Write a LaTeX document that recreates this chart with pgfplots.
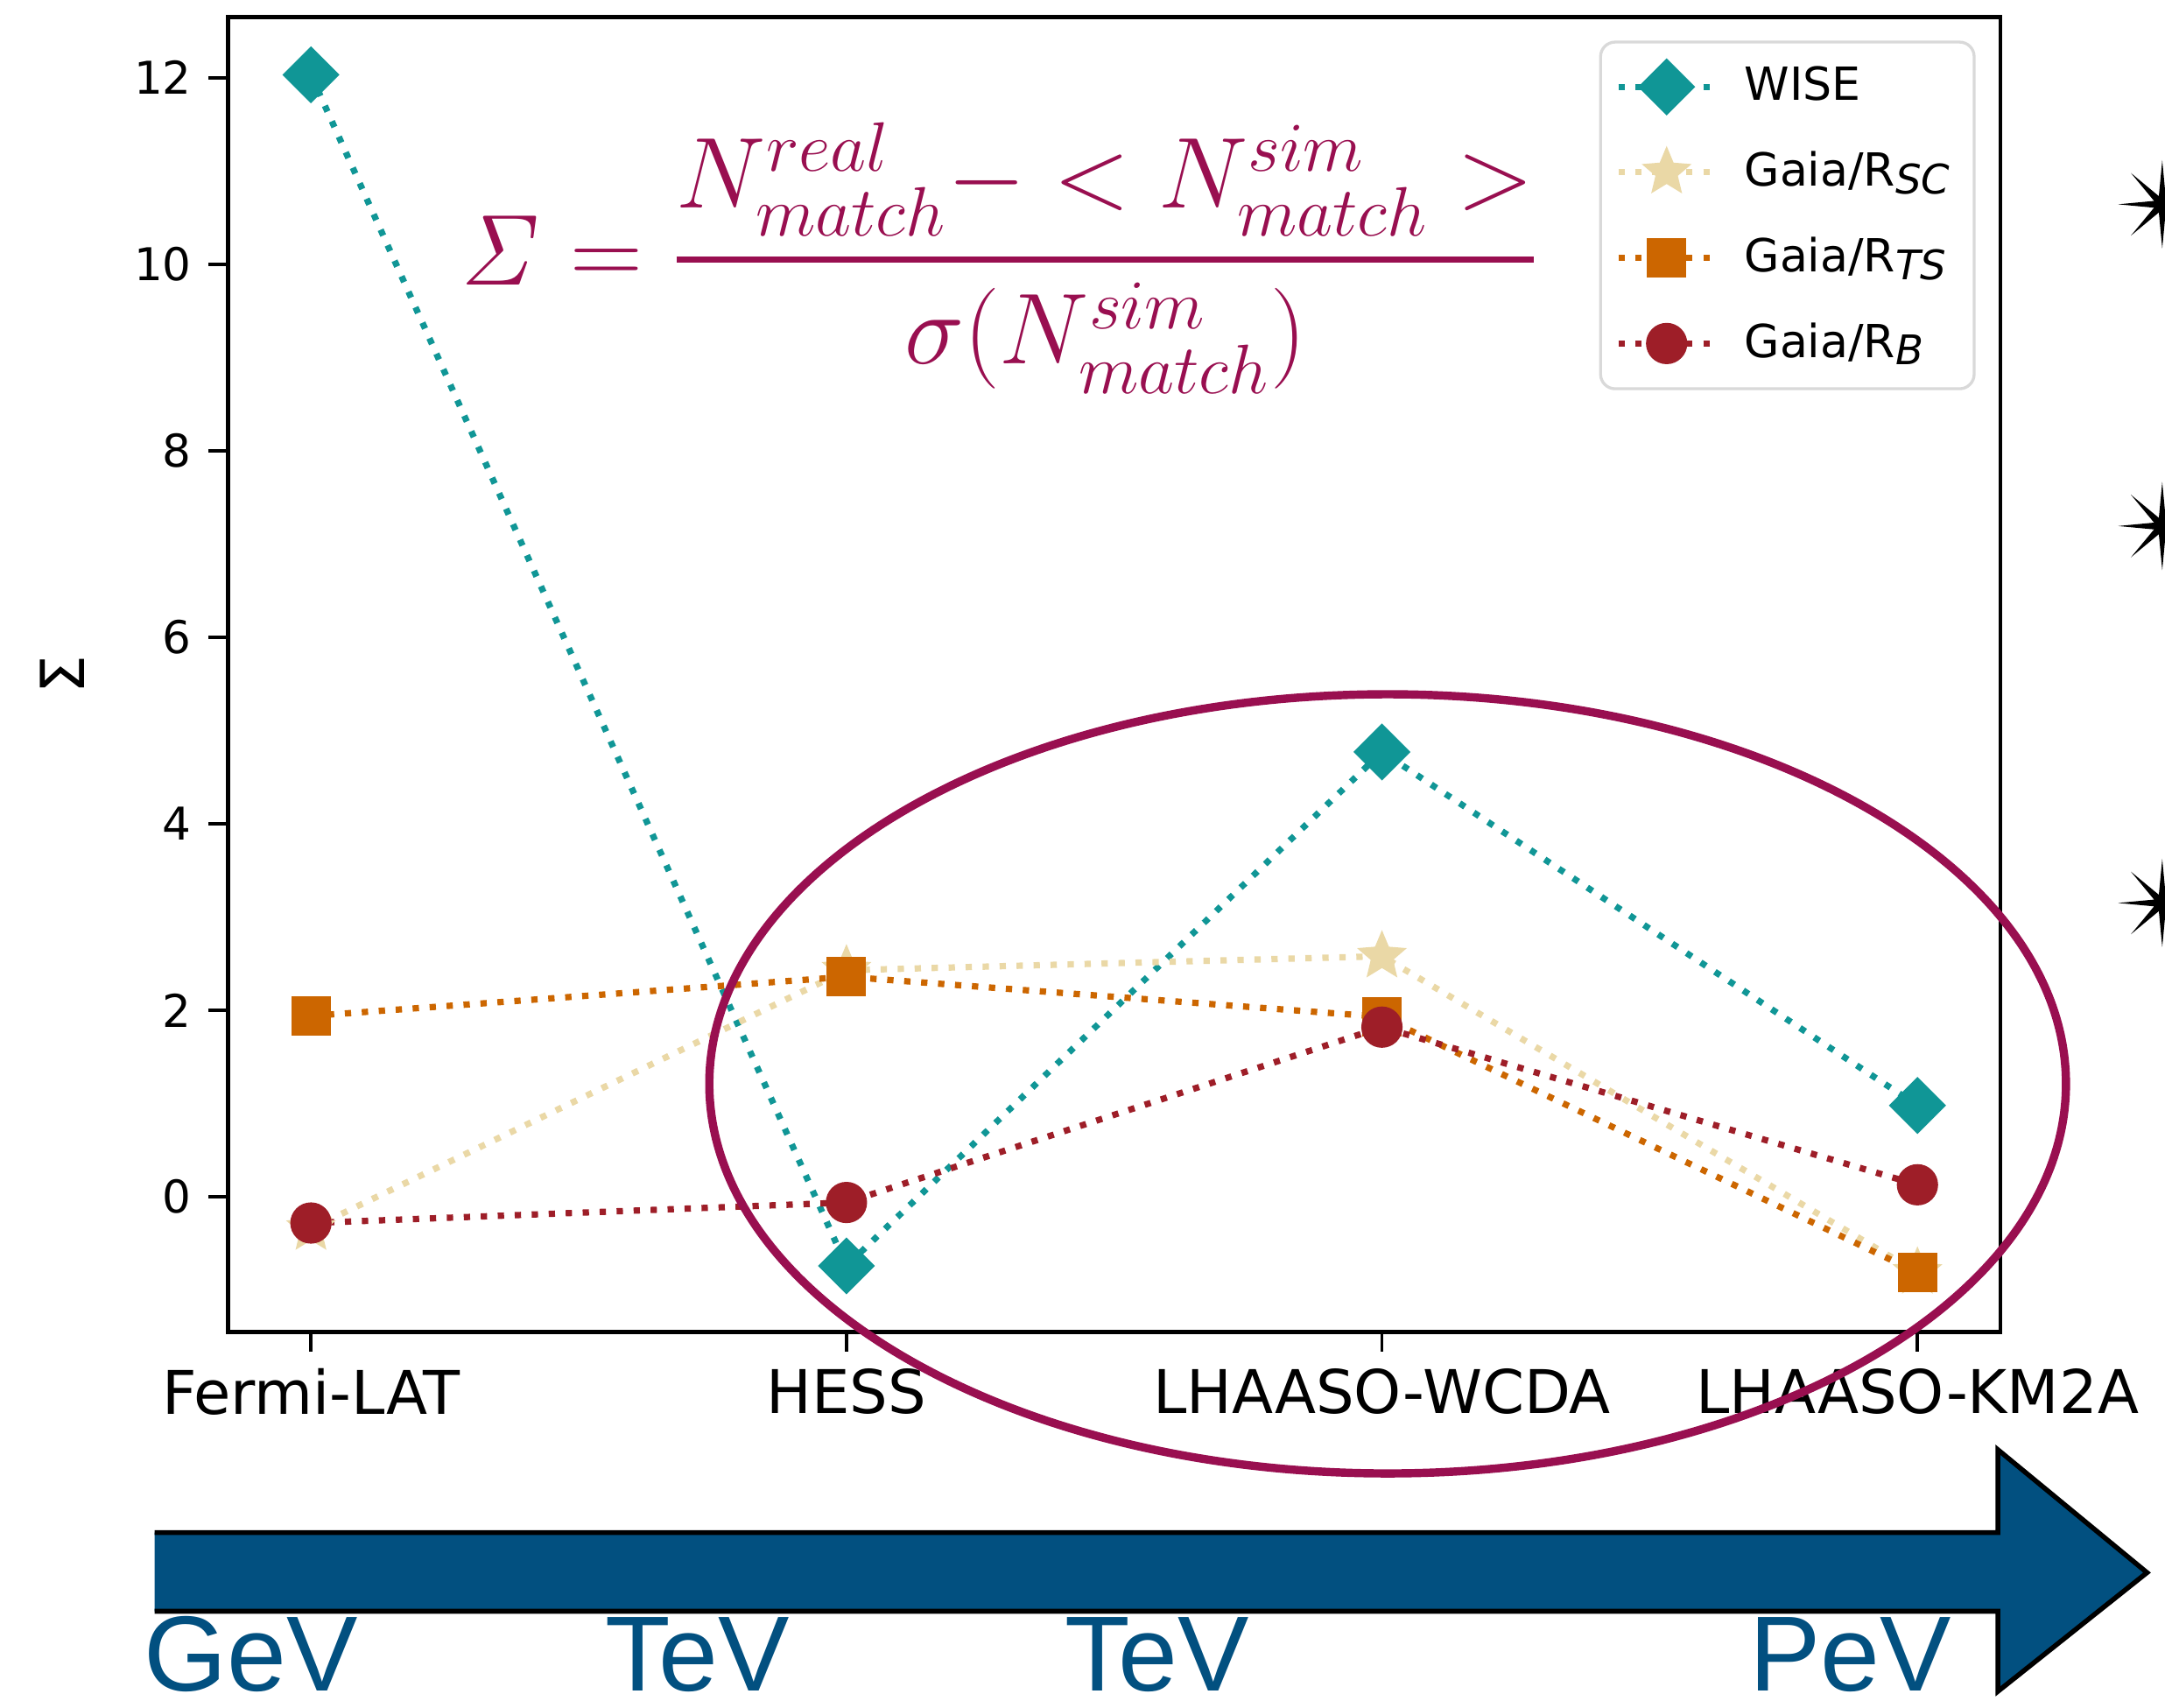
\documentclass[border=0pt]{standalone}
\usepackage{amsmath}
\usepackage[no-math]{fontspec}
\setmainfont{DejaVu Sans}
\newfontfamily\arialfont{Liberation Sans}
\usepackage{pgfplots}
\pgfplotsset{compat=1.18}
\usetikzlibrary{shapes.geometric}

\definecolor{wisec}{RGB}{16,150,150}
\definecolor{scc}{RGB}{234,216,166}
\definecolor{tsc}{RGB}{204,102,0}
\definecolor{bc}{RGB}{158,30,40}
\definecolor{ellc}{RGB}{153,15,80}
\definecolor{arrc}{RGB}{2,80,128}

\pgfdeclareplotmark{fstar}{%
  \pgfpathmoveto{\pgfpointpolar{90}{\pgfplotmarksize}}%
  \pgfpathlineto{\pgfpointpolar{126}{0.45\pgfplotmarksize}}%
  \pgfpathlineto{\pgfpointpolar{162}{\pgfplotmarksize}}%
  \pgfpathlineto{\pgfpointpolar{198}{0.45\pgfplotmarksize}}%
  \pgfpathlineto{\pgfpointpolar{234}{\pgfplotmarksize}}%
  \pgfpathlineto{\pgfpointpolar{270}{0.45\pgfplotmarksize}}%
  \pgfpathlineto{\pgfpointpolar{306}{\pgfplotmarksize}}%
  \pgfpathlineto{\pgfpointpolar{342}{0.45\pgfplotmarksize}}%
  \pgfpathlineto{\pgfpointpolar{18}{\pgfplotmarksize}}%
  \pgfpathlineto{\pgfpointpolar{54}{0.45\pgfplotmarksize}}%
  \pgfpathclose
  \pgfusepathqfill
}
\newcommand{\sub}[1]{\raisebox{-1.6pt}{\fontsize{8.4}{9}\selectfont\itshape #1}}

\pgfplotstableread{
x y
0 12.03
1 -0.74
2 4.77
3 0.98
}\wise
\pgfplotstableread{
x y
0 -0.34
1 2.43
2 2.58
3 -0.81
}\rsc
\pgfplotstableread{
x y
0 1.94
1 2.36
2 1.93
3 -0.81
}\rts
\pgfplotstableread{
x y
0 -0.28
1 -0.06
2 1.82
3 0.13
}\rb

\begin{document}
\begin{tikzpicture}[x=0.01cm,y=0.01cm]
\useasboundingbox (0,0) rectangle (1568,1237);
\begin{axis}[
  at={(1.65cm,2.72cm)}, anchor=south west,
  scale only axis, width=12.83cm, height=9.52cm,
  xmin=-0.155, xmax=3.155, ymin=-1.45, ymax=12.65,
  xtick={0,1,2,3},
  xticklabels={Fermi-LAT,HESS,LHAASO-WCDA,LHAASO-KM2A},
  ytick={0,2,4,6,8,10,12},
  tick align=outside, major tick length=0.14cm,
  tick style={black, line width=0.7pt},
  axis line style={line width=0.8pt},
  xtick pos=bottom, ytick pos=left,
  /pgf/number format/assume math mode=true,
  yticklabel style={font=\fontsize{9.3}{11}\selectfont},
  xticklabel style={font=\fontsize{12.4}{14}\selectfont},
  ylabel={Σ},
  ylabel style={font=\fontsize{12.5}{15}\selectfont, at={(axis description cs:-0.0935,0.5)}, anchor=center},
  legend style={at={(0.986,0.982)}, anchor=north east, draw=black!15, line width=0.6pt,
    rounded corners=3pt, font=\fontsize{9.4}{11}\selectfont, row sep=5pt,
    inner xsep=3pt, inner ysep=3pt},
  legend cell align=left,
  legend image code/.code={\draw[mark repeat=2,mark phase=2] plot coordinates {(0cm,0cm)(0.35cm,0cm)(0.7cm,0cm)};
    \path (0.82cm,0cm);},
  every axis plot/.append style={line width=1.3pt, dash pattern=on 1.3pt off 2.2pt},
]
\addplot[wisec, mark=square*, mark size=3.5pt, mark options={solid, rotate=45}] table[x=x,y=y] {\wise};
\addlegendentry{WISE}
\addplot[scc, mark=fstar, mark size=5.4pt, mark options={solid}] table[x=x,y=y] {\rsc};
\addlegendentry{Gaia/R\sub{SC}}
\addplot[tsc, mark=square*, mark size=3.4pt, mark options={solid}] table[x=x,y=y] {\rts};
\addlegendentry{Gaia/R\sub{TS}}
\addplot[bc, mark=*, mark size=3.6pt, mark options={solid}] table[x=x,y=y] {\rb};
\addlegendentry{Gaia/R\sub{B}}
\end{axis}

% formula
\node[ellc, font=\fontsize{19.5}{23}\selectfont] at (724,1050)
  {$\displaystyle \mathit{\Sigma} = \genfrac{}{}{1.4pt}{0}{N^{real}_{match} - < N^{sim}_{match} >}{\sigma(N^{sim}_{match})}$};

% ellipse
\draw[ellc, line width=1.7pt] (1005,452) ellipse [x radius=4.91cm, y radius=2.82cm];

% arrow
\fill[arrc] (112,127) -- (1447,127) -- (1447,187) -- (1555,98) -- (1447,12) -- (1447,70) -- (112,70) -- cycle;
\draw[black, line width=1pt] (112,127) -- (1447,127) -- (1447,187) -- (1555,98) -- (1447,12) -- (1447,70) -- (112,70);
\begin{scope}[every node/.style={arrc, font=\arialfont\fontsize{22}{26}\selectfont, anchor=base, inner sep=0pt}]
\node at (182,12) {GeV};
\node at (505,12) {TeV};
\node at (838,12) {TeV};
\node at (1340,12) {PeV};
\end{scope}

% decorative stars
\begin{scope}
\clip (0,0) rectangle (1568,1237);
\foreach \yy in {1089,856,583}
  \node[star, star points=8, star point ratio=5, fill=black, inner sep=0pt, minimum size=0.64cm] at (1566,\yy) {};
\end{scope}
\end{tikzpicture}
\end{document}
